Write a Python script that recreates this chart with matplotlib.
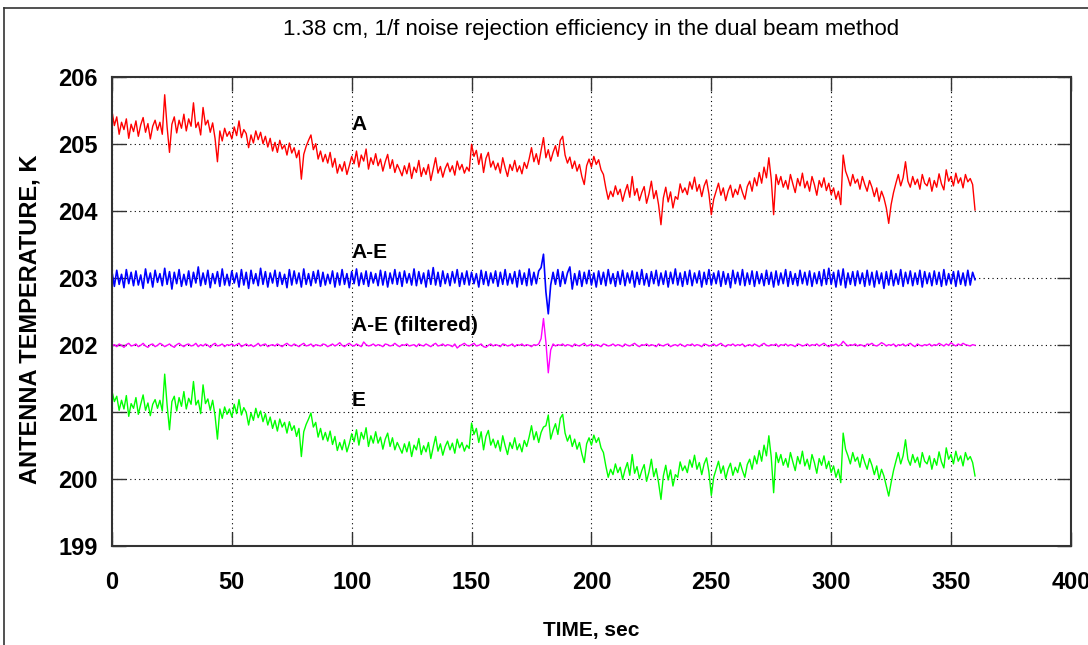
import numpy as np
import matplotlib
matplotlib.use("Agg")
import matplotlib.pyplot as plt
from matplotlib.lines import Line2D

# ---------------- data (1 s steps, t = 0..360) ----------------
time_sec = list(range(0, 361))

beam_A = [
    205.50, 205.28, 205.41, 205.15, 205.33, 205.22, 205.38, 205.09, 205.30, 205.19,
    205.35, 205.12, 205.29, 205.40, 205.18, 205.31, 205.08, 205.27, 205.36, 205.21,
    205.33, 205.15, 205.74, 205.26, 204.88, 205.30, 205.41, 205.17, 205.36, 205.24,
    205.45, 205.20, 205.38, 205.27, 205.62, 205.25, 205.33, 205.14, 205.55, 205.29,
    205.36, 205.18, 205.32, 205.09, 204.74, 205.20, 205.05, 205.24, 205.12, 205.19,
    205.08, 205.26, 205.13, 205.35, 205.10, 205.22, 205.16, 204.95, 205.14, 205.02,
    205.20, 205.07, 205.18, 205.01, 205.12, 204.96, 205.09, 204.90, 205.03, 204.88,
    205.06, 204.93, 204.99, 204.84, 205.02, 204.87, 204.95, 204.80, 204.91, 204.48,
    204.85, 204.97, 205.06, 205.14, 204.92, 205.01, 204.78, 204.90, 204.74, 204.85,
    204.72, 204.88, 204.66, 204.79, 204.57, 204.70, 204.60, 204.74, 204.55, 204.68,
    204.82, 204.71, 204.90, 204.66, 204.84, 204.75, 204.93, 204.63, 204.80, 204.70,
    204.86, 204.68, 204.78, 204.60, 204.74, 204.85, 204.64, 204.77, 204.58, 204.70,
    204.62, 204.53, 204.68, 204.56, 204.72, 204.49, 204.66, 204.58, 204.76, 204.52,
    204.65, 204.55, 204.70, 204.46, 204.63, 204.80, 204.57, 204.67, 204.51, 204.64,
    204.72, 204.59, 204.68, 204.54, 204.75, 204.62, 204.70, 204.57, 204.66, 204.60,
    205.00, 204.82, 204.91, 204.70, 204.86, 204.58, 204.79, 204.88, 204.66, 204.75,
    204.62, 204.72, 204.57, 204.80, 204.65, 204.52, 204.70, 204.61, 204.76, 204.59,
    204.68, 204.56, 204.73, 204.64, 204.78, 204.95, 204.74, 204.86, 204.70, 204.91,
    205.10, 204.80, 204.92, 204.75, 204.88, 204.98, 204.82, 205.06, 205.12, 204.84,
    204.72, 204.81, 204.64, 204.75, 204.60, 204.70, 204.52, 204.40, 204.68, 204.78,
    204.66, 204.82, 204.70, 204.77, 204.62, 204.55, 204.35, 204.18, 204.30, 204.22,
    204.38, 204.25, 204.33, 204.15, 204.29, 204.40, 204.21, 204.52, 204.24, 204.34,
    204.16, 204.28, 204.37, 204.12, 204.26, 204.45, 204.19, 204.31, 204.10, 203.80,
    204.20, 204.36, 204.14, 204.29, 204.05, 204.22, 204.18, 204.41, 204.28, 204.35,
    204.25, 204.44, 204.33, 204.51, 204.30, 204.40, 204.22, 204.38, 204.47, 204.26,
    203.95, 204.18, 204.30, 204.42, 204.24, 204.35, 204.16, 204.30, 204.39, 204.21,
    204.33, 204.25, 204.40, 204.28, 204.18, 204.37, 204.45, 204.30, 204.50, 204.38,
    204.58, 204.42, 204.66, 204.50, 204.80, 204.48, 203.95, 204.55, 204.40, 204.52,
    204.36, 204.46, 204.33, 204.55, 204.41, 204.28, 204.49, 204.38, 204.57, 204.35,
    204.45, 204.30, 204.52, 204.40, 204.24, 204.46, 204.36, 204.50, 204.31, 204.42,
    204.25, 204.35, 204.18, 204.30, 204.10, 204.84, 204.60, 204.50, 204.38, 204.55,
    204.42, 204.48, 204.33, 204.52, 204.40, 204.30, 204.46, 204.36, 204.22, 204.35,
    204.15, 204.30, 204.20, 204.05, 203.82, 204.10, 204.28, 204.42, 204.55, 204.38,
    204.50, 204.74, 204.45, 204.36, 204.52, 204.40, 204.48, 204.33, 204.55, 204.42,
    204.38, 204.50, 204.30, 204.46, 204.36, 204.56, 204.41, 204.32, 204.62, 204.45,
    204.52, 204.38, 204.57, 204.42, 204.50, 204.35, 204.55, 204.44, 204.49, 204.40,
    204.02,
]

beam_E = [
    201.32, 201.16, 201.24, 201.03, 201.18, 201.05, 201.25, 200.94, 201.13, 201.06,
    201.22, 200.97, 201.12, 201.26, 201.03, 201.14, 200.95, 201.12, 201.19, 201.06,
    201.18, 201.02, 201.57, 201.11, 200.74, 201.16, 201.24, 201.02, 201.22, 201.09,
    201.31, 201.05, 201.21, 201.12, 201.46, 201.11, 201.18, 200.98, 201.41, 201.13,
    201.20, 201.03, 201.18, 200.95, 200.60, 201.05, 200.91, 201.08, 200.97, 201.05,
    200.93, 201.12, 200.98, 201.19, 200.96, 201.07, 201.00, 200.81, 200.99, 200.88,
    201.06, 200.92, 201.02, 200.86, 200.98, 200.81, 200.93, 200.76, 200.88, 200.72,
    200.90, 200.78, 200.85, 200.69, 200.86, 200.73, 200.80, 200.64, 200.76, 200.34,
    200.71, 200.82, 200.90, 200.99, 200.78, 200.85, 200.63, 200.76, 200.59, 200.70,
    200.57, 200.72, 200.52, 200.64, 200.43, 200.55, 200.44, 200.59, 200.41, 200.53,
    200.68, 200.56, 200.74, 200.51, 200.70, 200.60, 200.77, 200.49, 200.65, 200.54,
    200.71, 200.54, 200.63, 200.45, 200.60, 200.69, 200.49, 200.62, 200.44, 200.55,
    200.47, 200.39, 200.53, 200.41, 200.56, 200.34, 200.51, 200.44, 200.61, 200.37,
    200.50, 200.41, 200.55, 200.31, 200.48, 200.64, 200.42, 200.53, 200.36, 200.49,
    200.57, 200.44, 200.54, 200.39, 200.60, 200.47, 200.55, 200.42, 200.51, 200.46,
    200.84, 200.67, 200.76, 200.55, 200.71, 200.44, 200.64, 200.73, 200.51, 200.60,
    200.47, 200.58, 200.42, 200.65, 200.50, 200.37, 200.55, 200.46, 200.62, 200.44,
    200.53, 200.41, 200.58, 200.49, 200.63, 200.80, 200.59, 200.71, 200.55, 200.70,
    200.78, 200.80, 200.96, 200.60, 200.73, 200.83, 200.67, 200.91, 200.97, 200.69,
    200.57, 200.66, 200.49, 200.60, 200.45, 200.55, 200.38, 200.25, 200.53, 200.62,
    200.51, 200.66, 200.55, 200.62, 200.47, 200.40, 200.20, 200.03, 200.15, 200.07,
    200.23, 200.10, 200.18, 200.00, 200.14, 200.25, 200.06, 200.37, 200.09, 200.19,
    200.01, 200.13, 200.22, 199.97, 200.11, 200.30, 200.04, 200.16, 199.95, 199.70,
    200.05, 200.21, 199.99, 200.14, 199.90, 200.07, 200.03, 200.26, 200.13, 200.20,
    200.10, 200.29, 200.18, 200.36, 200.15, 200.25, 200.07, 200.23, 200.32, 200.11,
    199.76, 200.03, 200.15, 200.27, 200.09, 200.20, 200.01, 200.15, 200.24, 200.06,
    200.18, 200.10, 200.25, 200.13, 200.03, 200.22, 200.30, 200.15, 200.35, 200.23,
    200.43, 200.27, 200.51, 200.35, 200.65, 200.33, 199.80, 200.40, 200.25, 200.37,
    200.21, 200.31, 200.18, 200.40, 200.26, 200.13, 200.34, 200.23, 200.42, 200.20,
    200.30, 200.15, 200.37, 200.25, 200.09, 200.31, 200.21, 200.35, 200.16, 200.27,
    200.10, 200.20, 200.03, 200.15, 199.95, 200.69, 200.45, 200.35, 200.23, 200.40,
    200.27, 200.33, 200.18, 200.37, 200.25, 200.15, 200.31, 200.21, 200.07, 200.20,
    200.00, 200.15, 200.05, 199.90, 199.75, 199.95, 200.13, 200.27, 200.40, 200.23,
    200.35, 200.59, 200.30, 200.21, 200.37, 200.25, 200.33, 200.18, 200.40, 200.27,
    200.23, 200.35, 200.15, 200.31, 200.21, 200.41, 200.26, 200.17, 200.47, 200.30,
    200.37, 200.23, 200.42, 200.27, 200.35, 200.20, 200.40, 200.29, 200.34, 200.25,
    200.05,
]

diff_AE = [
    203.10, 202.88, 203.12, 202.91, 203.06, 202.86, 203.13, 202.92, 203.09, 202.89,
    203.11, 202.90, 203.05, 202.85, 203.14, 202.93, 203.08, 202.87, 203.12, 202.94,
    203.07, 202.89, 203.15, 202.91, 203.10, 202.84, 203.09, 202.92, 203.13, 202.88,
    203.06, 202.90, 203.11, 202.87, 203.09, 202.93, 203.17, 202.89, 203.08, 202.91,
    203.12, 202.86, 203.07, 202.92, 203.10, 202.88, 203.14, 202.90, 203.06, 202.89,
    203.11, 202.93, 203.08, 202.87, 203.13, 202.90, 203.09, 202.85, 203.12, 202.92,
    203.07, 202.89, 203.15, 202.91, 203.10, 202.87, 203.08, 202.93, 203.12, 202.88,
    203.09, 202.91, 203.06, 202.86, 203.13, 202.90, 203.11, 202.92, 203.08, 202.87,
    203.14, 202.91, 203.07, 202.89, 203.10, 202.93, 203.12, 202.88, 203.09, 202.90,
    203.06, 202.92, 203.11, 202.87, 203.08, 202.90, 203.13, 202.91, 203.07, 202.86,
    203.10, 202.92, 203.14, 202.89, 203.08, 202.91, 203.11, 202.88, 203.09, 202.93,
    203.07, 202.89, 203.12, 202.90, 203.10, 202.87, 203.08, 202.92, 203.13, 202.91,
    203.09, 202.88, 203.11, 202.93, 203.07, 202.90, 203.14, 202.89, 203.10, 202.92,
    203.08, 202.87, 203.12, 202.91, 203.16, 202.90, 203.09, 202.88, 203.11, 202.92,
    203.07, 202.89, 203.10, 202.93, 203.13, 202.88, 203.08, 202.91, 203.11, 202.90,
    203.09, 202.92, 203.07, 202.87, 203.12, 202.91, 203.10, 202.89, 203.08, 202.93,
    203.11, 202.88, 203.09, 202.91, 203.13, 202.90, 203.07, 202.92, 203.10, 202.87,
    203.12, 202.91, 203.08, 202.89, 203.14, 202.90, 203.09, 202.92, 203.11, 203.16,
    203.36, 202.80, 202.47, 202.90, 203.09, 202.91, 203.13, 202.88, 203.10, 202.92,
    203.08, 203.17, 202.84, 203.07, 202.90, 203.11, 202.88, 203.09, 202.92, 203.12,
    202.90, 203.08, 202.87, 203.11, 202.91, 203.09, 202.89, 203.13, 202.92, 203.07,
    202.88, 203.10, 202.91, 203.12, 202.89, 203.08, 202.93, 203.11, 202.87, 203.09,
    202.91, 203.13, 202.90, 203.07, 202.88, 203.10, 202.92, 203.12, 202.89, 203.08,
    202.91, 203.11, 202.87, 203.09, 202.92, 203.14, 202.90, 203.08, 202.88, 203.10,
    202.91, 203.12, 202.89, 203.08, 202.93, 203.11, 202.87, 203.09, 202.91, 203.13,
    202.90, 203.08, 202.92, 203.11, 202.88, 203.10, 202.91, 203.07, 202.86, 203.12,
    202.92, 203.09, 202.90, 203.13, 202.89, 203.08, 202.91, 203.11, 202.88, 203.10,
    202.92, 203.07, 202.89, 203.12, 202.91, 203.09, 202.87, 203.11, 202.90, 203.08,
    202.92, 203.13, 202.88, 203.10, 202.91, 203.07, 202.89, 203.12, 202.92, 203.09,
    202.90, 203.11, 202.88, 203.08, 202.92, 203.10, 202.89, 203.13, 202.91, 203.15,
    202.91, 203.09, 202.87, 203.12, 202.90, 203.14, 202.86, 203.08, 202.91, 203.10,
    202.89, 203.11, 202.92, 203.08, 202.88, 203.12, 202.90, 203.09, 202.87, 203.11,
    202.92, 203.08, 202.85, 203.10, 202.90, 203.12, 202.89, 203.07, 202.91, 203.13,
    202.88, 203.09, 202.92, 203.11, 202.89, 203.08, 202.91, 203.12, 202.87, 203.10,
    202.92, 203.08, 202.89, 203.11, 202.91, 203.09, 202.88, 203.13, 202.90, 203.07,
    202.92, 203.10, 202.88, 203.11, 202.91, 203.08, 202.89, 203.12, 202.90, 203.09,
    202.98,
]

diff_AE_filtered = [
    201.99, 202.01, 201.98, 202.02, 202.00, 201.97, 202.01, 202.03, 201.99, 202.00,
    202.02, 201.98, 202.00, 202.03, 201.99, 201.97, 202.01, 202.02, 201.98, 202.00,
    202.03, 202.01, 201.98, 202.00, 202.02, 201.99, 201.97, 202.01, 202.03, 202.00,
    201.98, 202.01, 202.02, 201.99, 202.00, 202.03, 201.98, 202.01, 201.99, 202.02,
    202.00, 201.97, 202.01, 202.03, 201.99, 202.00, 202.02, 201.98, 202.01, 202.00,
    202.02, 201.99, 202.01, 202.03, 201.98, 202.00, 202.02, 201.99, 202.01, 201.98,
    202.00, 202.03, 201.99, 202.01, 202.02, 201.98, 202.00, 202.01, 201.99, 202.02,
    202.00, 201.98, 202.01, 202.03, 202.00, 201.99, 202.02, 202.00, 201.98, 202.01,
    202.03, 201.99, 202.00, 202.02, 201.98, 202.01, 202.00, 201.99, 202.02, 202.01,
    201.98, 202.00, 202.02, 201.99, 202.01, 202.04, 202.00, 201.98, 202.01, 202.03,
    202.00, 201.99, 202.02, 202.00, 201.98, 202.05, 202.01, 201.99, 202.00, 202.02,
    201.99, 202.01, 202.00, 201.98, 202.02, 202.01, 201.99, 202.00, 202.03, 202.00,
    201.98, 202.01, 202.00, 202.02, 201.99, 202.00, 202.01, 201.98, 202.02, 202.00,
    201.99, 202.02, 202.00, 201.98, 202.01, 202.03, 201.99, 202.00, 202.02, 201.99,
    202.01, 202.00, 201.98, 202.02, 201.96, 201.99, 202.01, 202.03, 202.00, 201.99,
    202.01, 202.03, 201.99, 202.00, 202.02, 201.98, 201.97, 202.00, 202.02, 201.99,
    202.01, 202.00, 201.98, 202.02, 202.01, 201.99, 202.00, 202.02, 201.98, 202.01,
    202.00, 202.02, 201.99, 202.01, 202.00, 201.98, 202.01, 202.00, 202.02, 202.10,
    202.40, 202.05, 201.59, 201.93, 202.02, 201.99, 202.01, 202.00, 202.02, 201.99,
    202.01, 202.00, 201.98, 202.02, 202.00, 201.99, 202.01, 202.03, 201.99, 202.00,
    202.02, 201.99, 202.01, 202.00, 201.98, 202.02, 202.01, 201.99, 202.00, 202.02,
    201.99, 202.01, 202.00, 201.98, 202.02, 202.00, 201.99, 202.01, 202.03, 202.00,
    201.98, 202.01, 202.00, 202.02, 201.99, 202.01, 202.00, 201.98, 202.02, 202.00,
    201.99, 202.01, 202.02, 201.98, 202.00, 202.01, 201.99, 202.02, 202.00, 201.98,
    202.01, 202.00, 202.02, 201.99, 202.01, 202.00, 201.98, 202.02, 202.01, 201.99,
    202.00, 202.02, 201.99, 202.01, 202.03, 202.00, 201.98, 202.01, 202.00, 202.02,
    201.99, 202.01, 202.00, 202.02, 201.98, 202.00, 202.01, 201.99, 202.02, 202.00,
    201.98, 202.01, 202.03, 202.00, 201.99, 202.01, 202.00, 202.02, 201.98, 202.01,
    202.00, 202.02, 201.99, 202.01, 202.00, 201.98, 202.02, 202.01, 201.99, 202.00,
    202.02, 201.99, 202.01, 202.00, 202.02, 201.99, 202.01, 202.03, 202.00, 201.98,
    202.01, 202.00, 202.02, 201.99, 202.01, 202.06, 202.02, 201.99, 202.01, 202.00,
    202.02, 201.99, 202.01, 202.00, 201.98, 202.02, 202.01, 202.03, 202.00, 201.99,
    202.01, 202.04, 202.02, 201.99, 202.01, 202.00, 202.02, 201.98, 202.01, 202.00,
    202.02, 201.99, 202.01, 202.03, 202.00, 201.98, 202.02, 202.00, 201.99, 202.01,
    202.00, 202.02, 201.99, 202.01, 202.00, 202.03, 202.01, 201.99, 202.02, 202.00,
    202.04, 202.01, 201.99, 202.02, 202.00, 202.03, 202.01, 202.00, 201.99, 202.01,
    202.00,
]

series_labels = ["A", "A-E", "A-E (filtered)", "E"]
label_pos = [(100, 205.29), (100, 203.38), (100, 202.30), (100, 201.17)]
x_ticks = [0, 50, 100, 150, 200, 250, 300, 350, 400]
y_ticks = [199, 200, 201, 202, 203, 204, 205, 206]

title = "1.38 cm, 1/f noise rejection efficiency in the dual beam method"
xlabel = "TIME, sec"
ylabel = "ANTENNA TEMPERATURE, K"

# ---------------- figure ----------------
NARROW = ["Liberation Sans Narrow", "Liberation Sans", "DejaVu Sans"]
REG = ["Liberation Sans", "DejaVu Sans"]

fig = plt.figure(figsize=(10.88, 6.45), dpi=100)
fig.patch.set_facecolor("white")
ax = fig.add_axes([0.1029, 0.153, 0.8814, 0.7271])

ax.plot(time_sec, beam_A, color="#ff0000", lw=1.0)
ax.plot(time_sec, diff_AE, color="#0000ff", lw=1.2)
ax.plot(time_sec, diff_AE_filtered, color="#ff00ff", lw=1.0)
ax.plot(time_sec, beam_E, color="#00ff00", lw=1.0)

ax.set_xlim(0, 400)
ax.set_ylim(199, 206)
ax.set_xticks(x_ticks)
ax.set_yticks(y_ticks)
ax.grid(True, color="black", linestyle=(0, (1, 3)), linewidth=0.8)
ax.tick_params(direction="in", length=10, width=1.0, top=True, right=True,
               colors="#333333", labelcolor="black", pad=10)
ax.tick_params(axis="x", pad=18)
for lab in ax.get_xticklabels() + ax.get_yticklabels():
    lab.set_fontfamily(NARROW)
    lab.set_fontweight("bold")
    lab.set_fontsize(17)
for s in ax.spines.values():
    s.set_color("#333333")
    s.set_linewidth(1.5)

for txt, (xx, yy) in zip(series_labels, label_pos):
    ax.text(xx, yy, txt, ha="left", va="center", fontsize=15, fontweight="bold",
            family=NARROW)

fig.text(0.543, 0.955, title, ha="center", va="center", fontsize=16, family=NARROW)
fig.text(0.543, 0.022, xlabel, ha="center", va="center", fontsize=15,
         fontweight="bold", family=NARROW)
fig.text(0.028, 0.505, ylabel, ha="center", va="center", rotation=90,
         fontsize=17, fontweight="bold", family=REG)

# figure frame lines (top and left)
fig.add_artist(Line2D([4 / 1088, 1.0], [1 - 8 / 645, 1 - 8 / 645],
                      transform=fig.transFigure, color="#333333", lw=1.2))
fig.add_artist(Line2D([4 / 1088, 4 / 1088], [0, 1 - 8 / 645],
                      transform=fig.transFigure, color="#333333", lw=1.2))

fig.savefig("out.png", dpi=100)
